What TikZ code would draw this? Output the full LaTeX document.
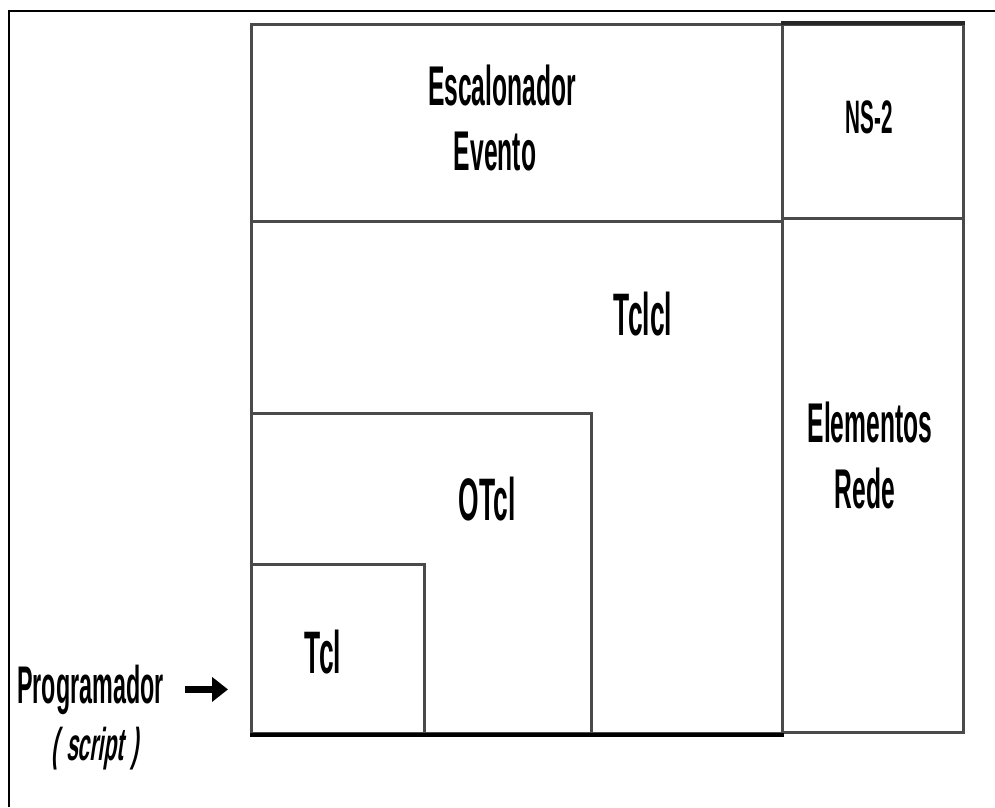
\documentclass[tikz,border=0pt]{standalone}
\usepackage{fontspec}
\usetikzlibrary{arrows.meta}
% narrow display face for all labels
\newfontfamily\narrowface[FakeStretch=0.44]{Liberation Sans}
\newfontfamily\narrowslant[FakeStretch=0.46, FakeSlant=0.15]{Liberation Sans}
\definecolor{boxline}{HTML}{4A4A4A}
\tikzset{
  layer/.style={draw=boxline, line width=3pt, rectangle, inner sep=0pt, anchor=north west},
  lbl/.style={inner sep=0pt, anchor=base, text=black, font=\narrowface\bfseries},
  bigarrow/.style={draw=black, line width=7pt, -{Triangle[length=16pt,width=24pt]}},
}
\begin{document}
\begin{tikzpicture}[x=1pt,y=-1pt]
  \useasboundingbox (0,0) rectangle (995,807);
  % outer frame (left and top edges)
  \draw[line width=2.5pt, black] (9,807) -- (9,11) -- (995,11);

  % layered blocks
  \node[layer, minimum width=531pt, minimum height=197pt] (sched) at (250,23) {};
  \node[layer, minimum width=181pt, minimum height=194pt] (ns) at (781,23) {};
  \node[layer, minimum width=181pt, minimum height=514pt] (net) at (781,217) {};
  \node[layer, minimum width=531pt, minimum height=512pt] (tclcl) at (250,220) {};
  \node[layer, minimum width=340pt, minimum height=320pt] (otcl) at (250,412) {};
  \node[layer, minimum width=173pt, minimum height=169pt] (tcl) at (250,563) {};
  % heavier base line
  \draw[line width=4pt, black] (tclcl.south west) -- (tclcl.south east);
  \draw[line width=3.5pt, black!85] (ns.north west) -- (ns.north east);

  % labels
  \node[lbl, font=\narrowface\bfseries\fontsize{56}{60}\selectfont] (escal) at (502,105) {Escalonador};
  \node[lbl, font=\narrowface\bfseries\fontsize{56}{60}\selectfont] (evento) at (495,170) {Evento};
  \node[lbl, font=\narrowface\bfseries\fontsize{47}{50}\selectfont] (nslbl) at (869,133) {NS-2};
  \node[lbl, font=\narrowface\bfseries\fontsize{60}{64}\selectfont] (tclcllbl) at (643,335) {Tclcl};
  \node[lbl, font=\narrowface\bfseries\fontsize{56}{60}\selectfont] (elem) at (870,442) {Elementos};
  \node[lbl, font=\narrowface\bfseries\fontsize{56}{60}\selectfont] (rede) at (865,508) {Rede};
  \node[lbl, font=\narrowface\bfseries\fontsize{60}{64}\selectfont] (otcllbl) at (487,520) {OTcl};
  \node[lbl, font=\narrowface\bfseries\fontsize{60}{64}\selectfont] (tcllbl) at (323,673) {Tcl};
  \node[lbl, anchor=base west, font=\narrowface\bfseries\fontsize{53}{56}\selectfont] (prog) at (17,703) {Programador};
  \node[lbl, font=\narrowslant\bfseries\fontsize{46}{50}\selectfont] (script) at (95,760) {(\,script\,)};

  % programmer feeds the Tcl layer
  \coordinate (tip) at ([xshift=-22pt]tcl.west |- prog.east);
  \draw[bigarrow] ([xshift=21pt]prog.east) -- (tip);
\end{tikzpicture}
\end{document}
